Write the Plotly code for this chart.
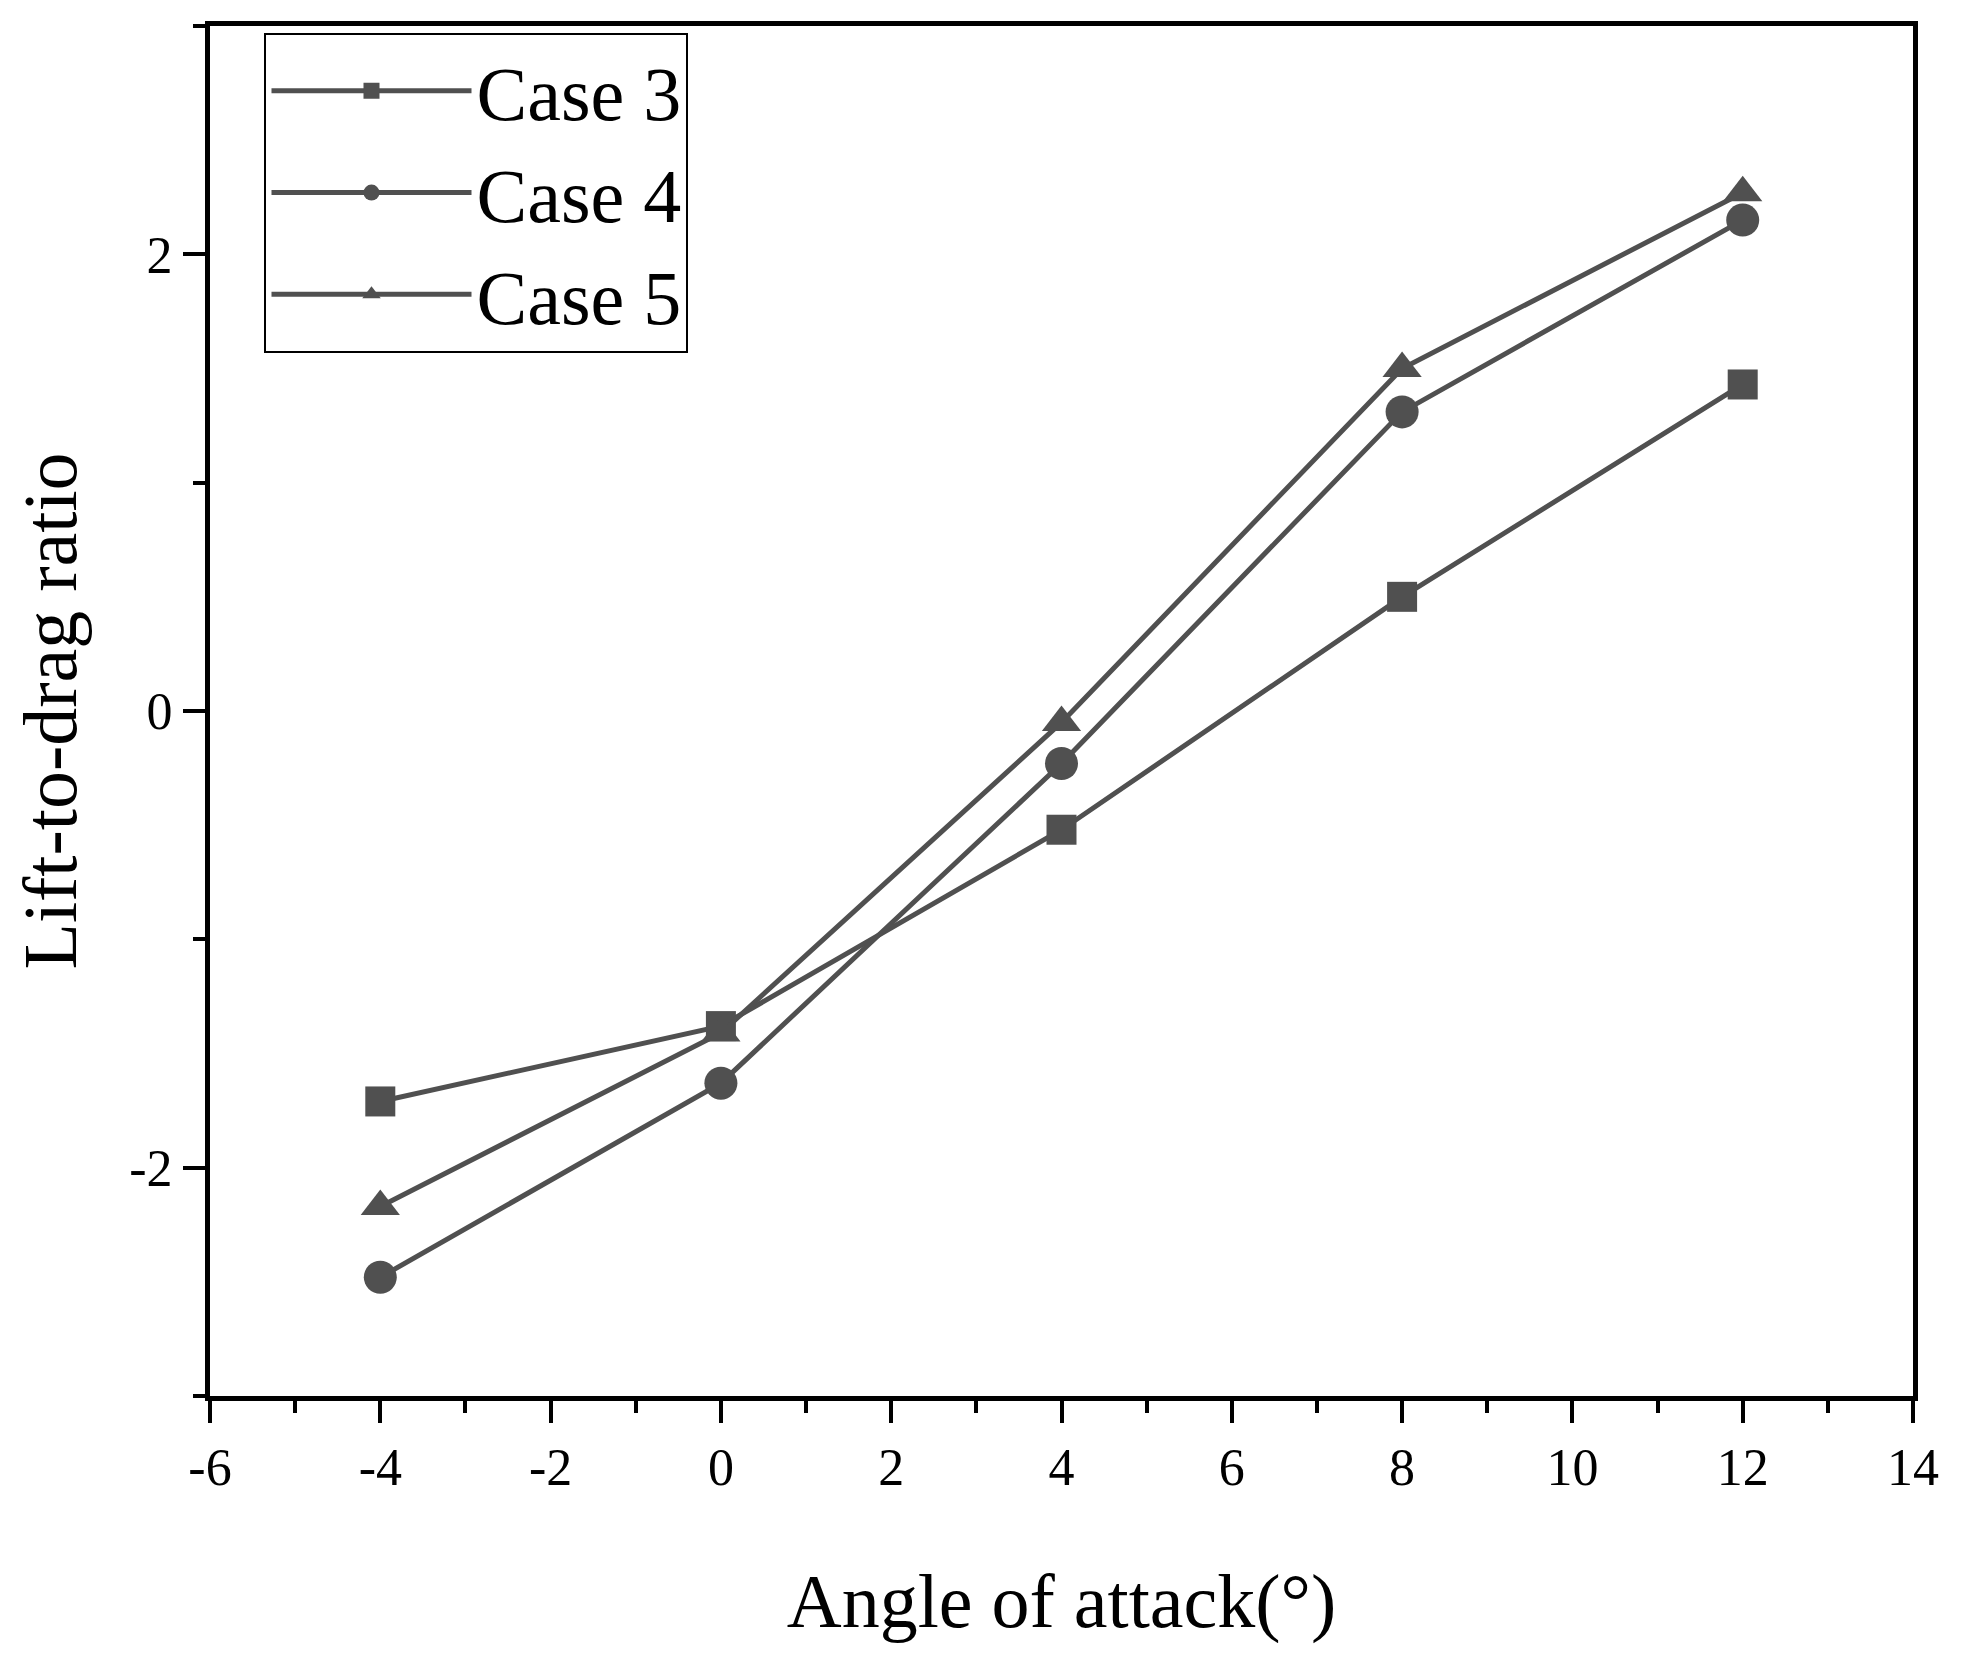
import plotly.graph_objects as go

# angle of attack (deg)
angles = [-4, 0, 4, 8, 12]

# lift-to-drag ratio
case3 = [-1.71, -1.38, -0.52, 0.50, 1.43]
case4 = [-2.48, -1.63, -0.23, 1.31, 2.15]
case5 = [-2.17, -1.41, -0.05, 1.50, 2.27]

series_names = ["Case 3", "Case 4", "Case 5"]
series_values = [case3, case4, case5]

# tick labels (plain hyphen as in the original, not the unicode minus)
x_tickvals = [-6, -4, -2, 0, 2, 4, 6, 8, 10, 12, 14]
x_ticktext = ["-6", "-4", "-2", "0", "2", "4", "6", "8", "10", "12", "14"]
y_tickvals = [-2, 0, 2]
y_ticktext = ["-2", "0", "2"]

symbols = ["square", "circle", "triangle-up"]
sizes = [30, 33, 34]

line_col = "#505050"
font_fam = "Liberation Serif, DejaVu Serif, serif"

fig = go.Figure()

for name, vals, sym, sz in zip(series_names, series_values, symbols, sizes):
    fig.add_trace(go.Scatter(
        x=angles,
        y=vals,
        mode="lines+markers",
        name=name,
        line=dict(color=line_col, width=5),
        marker=dict(symbol=sym, size=sz, color=line_col),
    ))

axis_common = dict(
    showline=True,
    linecolor="black",
    linewidth=5,
    mirror=True,
    showgrid=False,
    zeroline=False,
    ticks="outside",
    ticklen=22,
    tickwidth=4,
    tickcolor="black",
    tickfont=dict(family=font_fam, size=52, color="black"),
    minor=dict(ticks="outside", ticklen=12, tickwidth=4, tickcolor="black", dtick=1),
)

fig.update_xaxes(
    range=[-6, 14],
    tickmode="array",
    tickvals=x_tickvals,
    ticktext=x_ticktext,
    title=dict(text="Angle of attack(°)", font=dict(family=font_fam, size=76, color="black"), standoff=80),
    **axis_common,
)
fig.update_yaxes(
    range=[-3, 3],
    tickmode="array",
    tickvals=y_tickvals,
    ticktext=y_ticktext,
    title=dict(text="Lift-to-drag ratio", font=dict(family=font_fam, size=76, color="black"), standoff=40),
    **axis_common,
)
fig.update_xaxes(minor=dict(tick0=0, dtick=1))
fig.update_yaxes(minor=dict(tick0=0, dtick=1))

fig.update_layout(
    width=1967,
    height=1667,
    margin=dict(l=202, r=62, t=18, b=279),
    plot_bgcolor="white",
    paper_bgcolor="white",
    showlegend=True,
    legend=dict(
        x=0.032,
        y=0.995,
        xanchor="left",
        yanchor="top",
        bordercolor="black",
        borderwidth=2,
        bgcolor="white",
        font=dict(family=font_fam, size=76, color="black"),
        itemwidth=200,
        tracegroupgap=0,
    ),
)

fig.write_html("out.html")
